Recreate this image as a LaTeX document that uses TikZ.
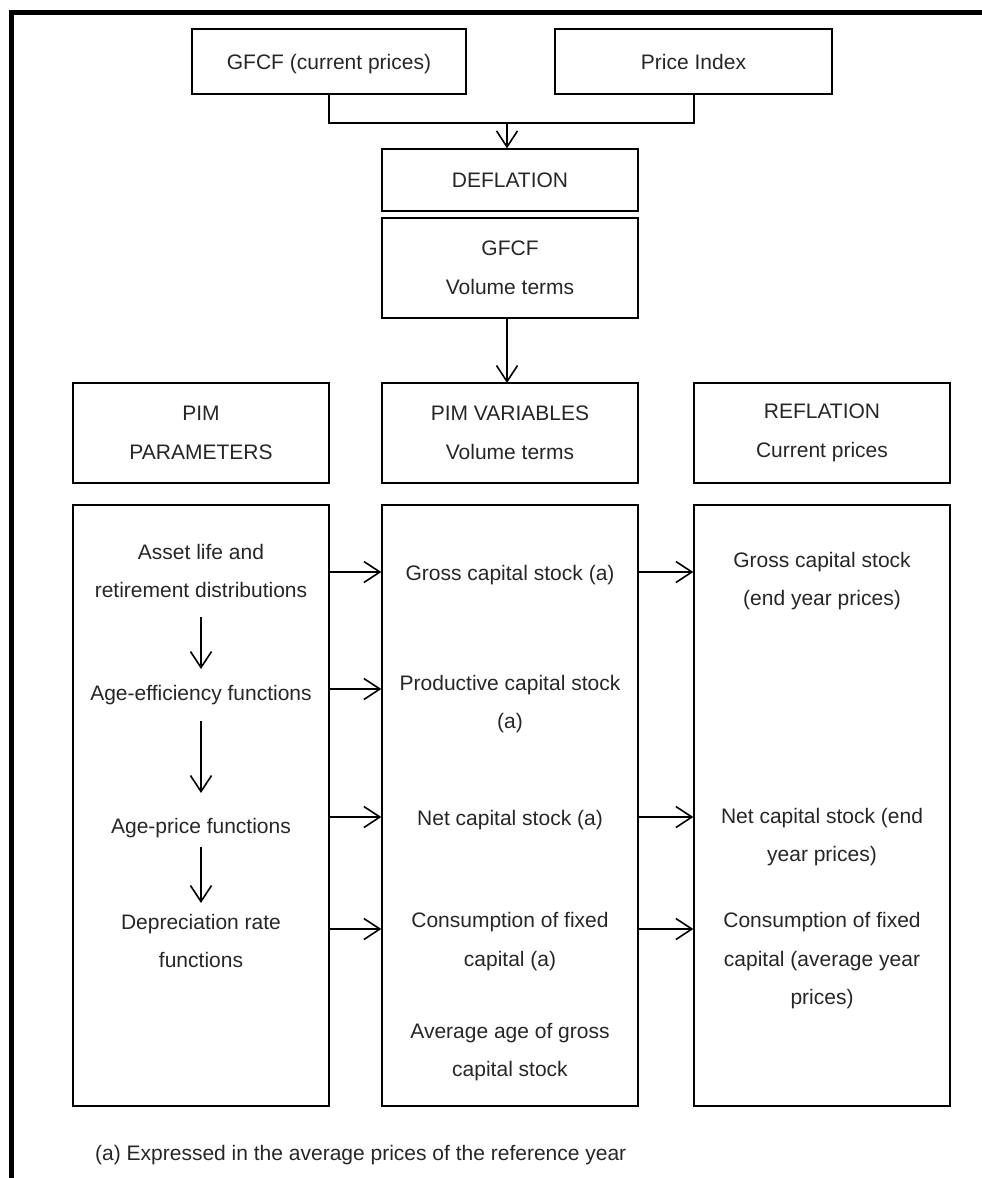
\documentclass[tikz,border=0pt]{standalone}
\usepackage{fontspec}
\setmainfont{Liberation Sans}
\usetikzlibrary{arrows.meta}
\begin{document}
\begin{tikzpicture}[x=1pt,y=-1pt,
  box/.style={draw, line width=1.3pt, inner sep=0pt, align=center, text=black!85, font=\fontsize{21}{38.5}\selectfont},
  txt/.style={inner sep=0pt, align=center, text=black!85, font=\fontsize{21}{38.5}\selectfont},
  arr/.style={line width=1.6pt, -{Straight Barb[length=16pt,width=21pt,line width=1.6pt]}}]
\useasboundingbox (0,0) rectangle (982,1178);
% outer frame
\draw[line width=5pt, line join=miter] (11,1178) -- (11,12.5) -- (982,12.5);
% top boxes
\node[box, minimum width=274pt, minimum height=65pt, text height=15pt, text depth=0pt] (gfcf) at (329,61.5) {GFCF (current prices)};
\node[box, minimum width=277pt, minimum height=65pt, text height=15pt, text depth=0pt] (pidx) at (693.5,61.5) {Price Index};
\draw[line width=2pt] (gfcf.south) -- ++(0,28) -| (pidx.south);
\coordinate (brk) at (507,122);
\node[box, minimum width=256pt, minimum height=62pt] (defl) at (510,180) {DEFLATION};
\node[box, minimum width=256pt, minimum height=100pt] (gvol) at (510,268) {GFCF\\Volume terms};
\draw[arr] (brk) -- (brk |- defl.north);
\draw[arr] (brk |- gvol.south) -- (brk |- 0,383);
% header boxes
\node[box, minimum width=256pt, minimum height=100pt] (pimp) at (201,433) {PIM\\PARAMETERS};
\node[box, minimum width=256pt, minimum height=100pt] (pimv) at (510,433) {PIM VARIABLES\\Volume terms};
\node[box, minimum width=256pt, minimum height=100pt] (refl) at (822,433) {REFLATION\\Current prices};
% big boxes
\node[box, minimum width=256pt, minimum height=601pt] (lb) at (201,805.5) {};
\node[box, minimum width=256pt, minimum height=601pt] (mb) at (510,805.5) {};
\node[box, minimum width=256pt, minimum height=601pt] (rb) at (822,805.5) {};
% left texts
\node[txt] (l1) at (201,571) {Asset life and\\retirement distributions};
\node[txt] (l2) at (201,695) {Age-efficiency functions};
\node[txt] (l3) at (201,828) {Age-price functions};
\node[txt] (l4) at (201,941) {Depreciation rate\\functions};
% middle texts
\node[txt] (m1) at (510,575) {Gross capital stock (a)};
\node[txt] (m2) at (510,704) {Productive capital stock\\(a)};
\node[txt] (m3) at (510,820) {Net capital stock (a)};
\node[txt] (m4) at (510,941.5) {Consumption of fixed\\capital (a)};
\node[txt] (m5) at (510,1052) {Average age of gross\\capital stock};
% right texts
\node[txt] (r1) at (822,581) {Gross capital stock\\(end year prices)};
\node[txt] (r3) at (822,837) {Net capital stock (end\\year prices)};
\node[txt] (r4) at (822,961) {Consumption of fixed\\capital (average year\\prices)};
% vertical arrows in left box
\draw[arr] (l1 |- 0,617) -- (l1 |- 0,669);
\draw[arr] (l1 |- 0,721) -- (l1 |- 0,793);
\draw[arr] (l1 |- 0,847) -- (l1 |- 0,903);
% horizontal arrows
\draw[arr] (lb.east |- 0,572) -- (mb.west |- 0,572);
\draw[arr] (lb.east |- 0,689) -- (mb.west |- 0,689);
\draw[arr] (lb.east |- 0,817) -- (mb.west |- 0,817);
\draw[arr] (lb.east |- 0,929) -- (mb.west |- 0,929);
\draw[arr] (mb.east |- 0,572) -- (rb.west |- 0,572);
\draw[arr] (mb.east |- 0,817) -- (rb.west |- 0,817);
\draw[arr] (mb.east |- 0,929) -- (rb.west |- 0,929);
% footnote
\node[txt, anchor=west] (fn) at (95,1155) {(a) Expressed in the average prices of the reference year};
\end{tikzpicture}
\end{document}
